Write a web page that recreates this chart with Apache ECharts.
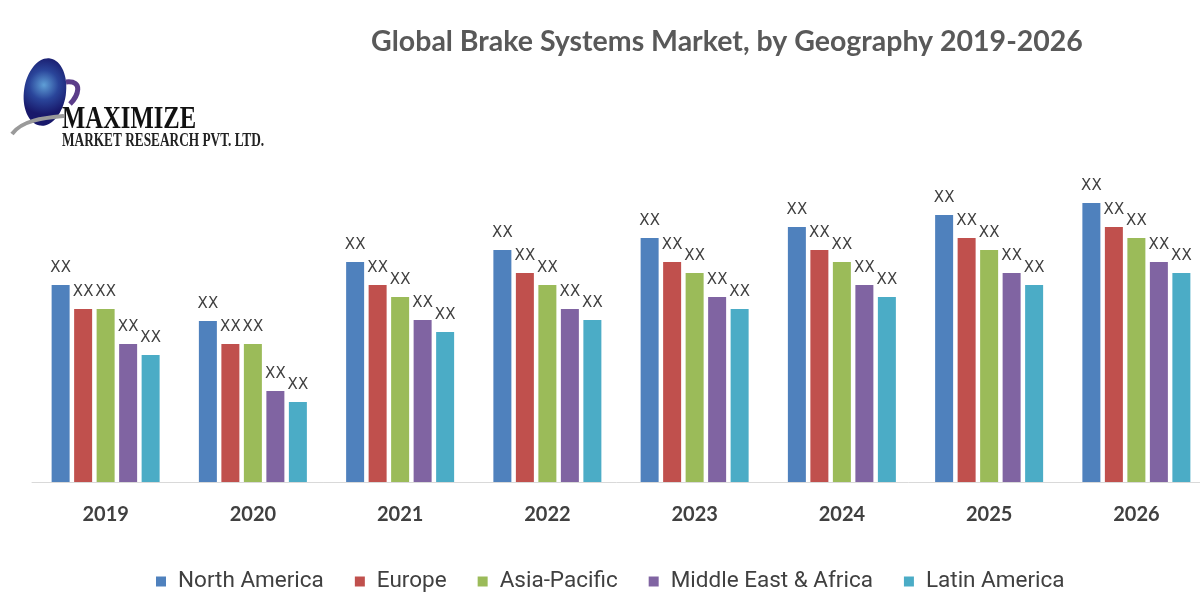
<!DOCTYPE html>
<html>
<head>
<meta charset="utf-8">
<script src="https://cdn.jsdelivr.net/npm/echarts@6/dist/echarts.min.js"></script>
<style>html,body{margin:0;padding:0;background:#fff;}#c{width:1200px;height:600px;}</style>
</head>
<body>
<div id="c"></div>
<script>
const years = ['2019','2020','2021','2022','2023','2024','2025','2026'];
const seriesNames = ['North America','Europe','Asia-Pacific','Middle East & Africa','Latin America'];
const northAmerica = [197, 161, 220, 232, 244, 255, 267, 279];
const europe       = [173, 138, 197, 209, 220, 232, 244, 255];
const asiaPacific  = [173, 138, 185, 197, 209, 220, 232, 244];
const middleEast   = [138,  91, 162, 173, 185, 197, 209, 220];
const latinAmerica = [127,  80, 150, 162, 173, 185, 197, 209];
const labelText = 'XX';
const colors = ['#4F81BD','#C0504D','#9BBB59','#8064A2','#4BACC6'];
const values = [northAmerica, europe, asiaPacific, middleEast, latinAmerica];

const chart = echarts.init(document.getElementById('c'));
chart.setOption({
  backgroundColor: '#ffffff',
  animation: false,
  color: colors,
  title: {
    text: 'Global Brake Systems Market, by Geography 2019-2026',
    left: 722, top: 22, textAlign: 'center',
    textStyle: {fontFamily: 'Lato', fontWeight: 'bold', fontSize: 28.5, color: '#595959'}
  },
  legend: {
    data: seriesNames,
    bottom: 2, left: 151,
    itemWidth: 10, itemHeight: 10, itemGap: 31,
    icon: 'rect',
    textStyle: {fontFamily: 'Roboto', fontSize: 22.5, color: '#404040', padding: [0, 0, 0, 7]}
  },
  grid: {left: 32, width: 1178, top: 182, bottom: 118, containLabel: false, outerBoundsMode: 'none'},
  xAxis: {
    type: 'category', data: years,
    axisLine: {lineStyle: {color: '#d9d9d9', width: 1}},
    axisTick: {show: false},
    axisLabel: {fontFamily: 'Lato', fontWeight: 'bold', fontSize: 20, color: '#404040', margin: 23}
  },
  yAxis: {type: 'value', min: 0, max: 300, show: false, splitLine: {show: false}},
  graphic: [
    {type: 'ellipse', shape: {cx: 45, cy: 92, rx: 21, ry: 34}, rotation: -0.15, originX: 45, originY: 92,
      style: {fill: new echarts.graphic.RadialGradient(0.45, 0.4, 0.7, [{offset: 0, color: '#5f9fd6'}, {offset: 0.5, color: '#2a459a'}, {offset: 1, color: '#18186a'}])}},
    {type: 'bezierCurve', shape: {x1: 66, y1: 82, x2: 70, y2: 104, cpx1: 84, cpy1: 80, cpx2: 78, cpy2: 96},
      style: {stroke: '#5b3d8a', lineWidth: 5, fill: null}},
    {type: 'bezierCurve', shape: {x1: 12, y1: 134, x2: 64, y2: 116, cpx1: 22, cpy1: 120, cpx2: 44, cpy2: 118},
      style: {stroke: '#9a9a9a', lineWidth: 4, fill: null}},
    {type: 'text', x: 62, y: 104, scaleX: 0.77,
      style: {text: 'MAXIMIZE', fontFamily: 'Liberation Serif', fontWeight: 'bold', fontSize: 32, fill: '#111'}},
    {type: 'text', x: 62, y: 132, scaleX: 0.7,
      style: {text: 'MARKET RESEARCH PVT. LTD.', fontFamily: 'Liberation Serif', fontWeight: 'bold', fontSize: 19, fill: '#222'}}
  ],
  series: seriesNames.map((n, i) => ({
    name: n, type: 'bar', data: values[i],
    barWidth: 18, barGap: '25%', barCategoryGap: '26%',
    itemStyle: {color: colors[i]},
    label: {show: true, position: 'top', distance: 9, formatter: labelText,
      fontFamily: 'DejaVu Sans', fontSize: 15, color: '#404040'}
  }))
});
</script>
</body>
</html>
